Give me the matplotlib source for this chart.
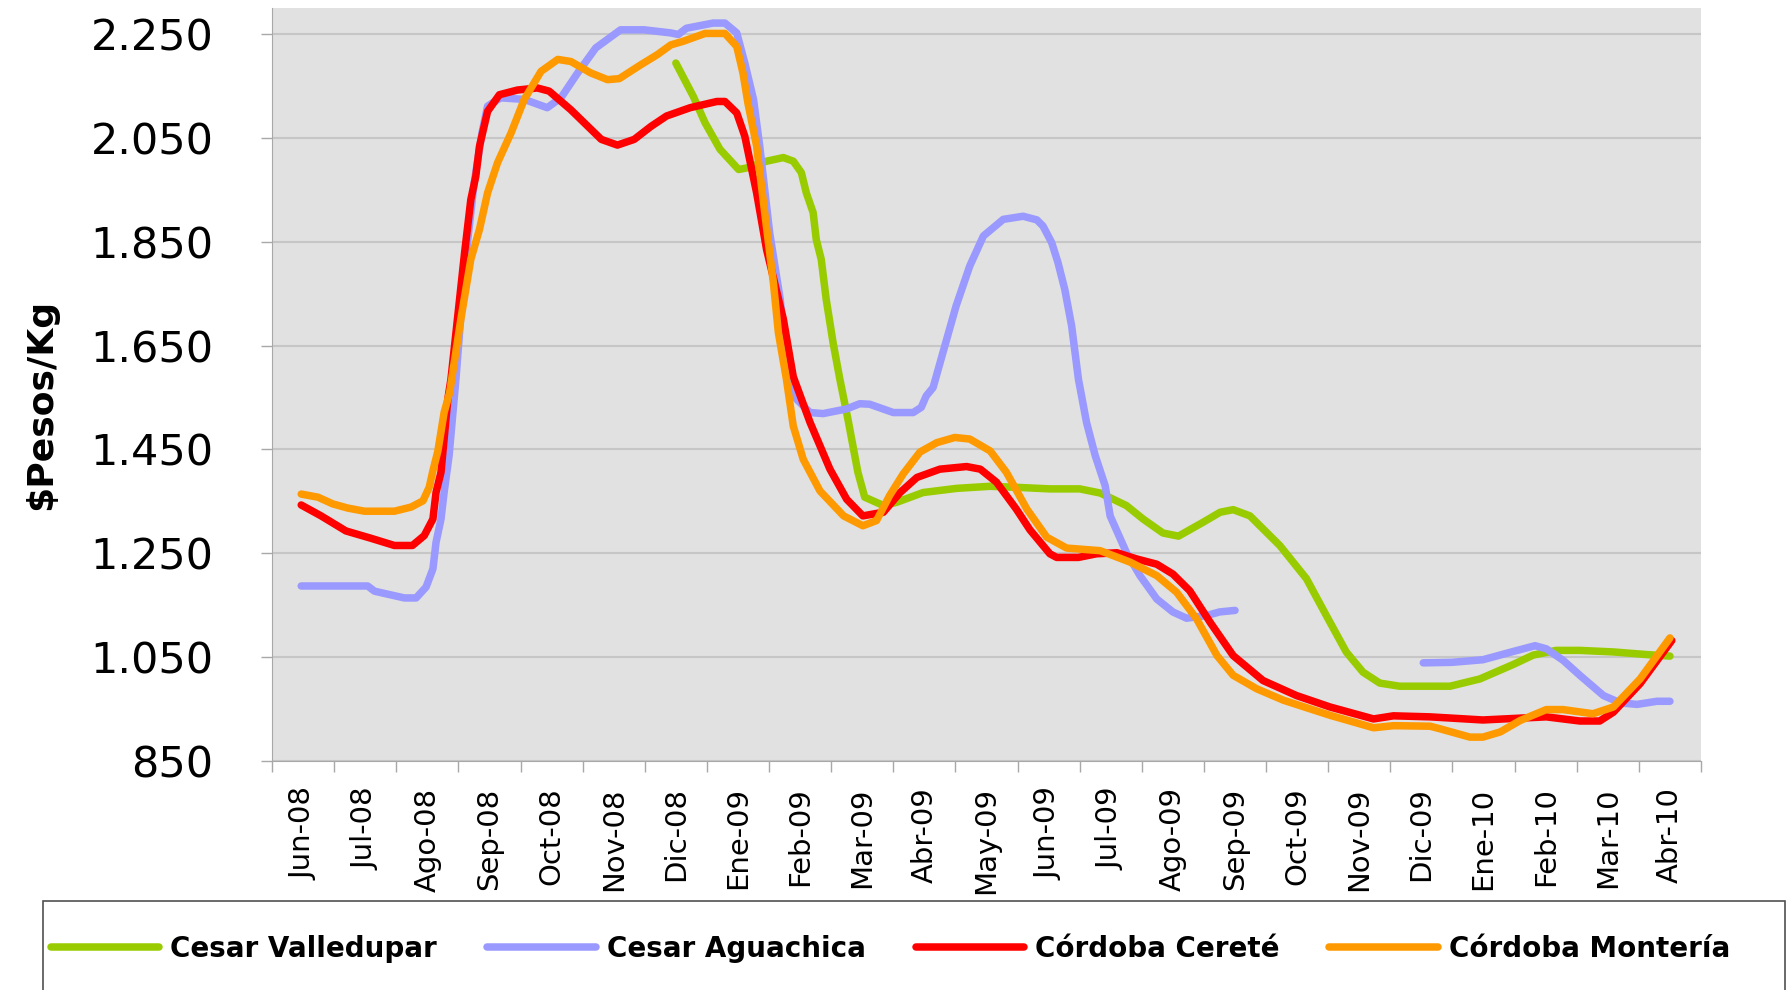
"""Precio mayorista de algodón/maíz por región: $Pesos/Kg, Jun-08 a Abr-10."""
import matplotlib
matplotlib.use("Agg")
import matplotlib.pyplot as plt
import numpy as np
from matplotlib.patches import Rectangle
from matplotlib.ticker import FixedLocator, FuncFormatter

months = ["Jun-08", "Jul-08", "Ago-08", "Sep-08", "Oct-08", "Nov-08", "Dic-08",
          "Ene-09", "Feb-09", "Mar-09", "Abr-09", "May-09", "Jun-09", "Jul-09",
          "Ago-09", "Sep-09", "Oct-09", "Nov-09", "Dic-09", "Ene-10", "Feb-10",
          "Mar-10", "Abr-10"]

# time in months since Jun-08 (fractional = within the month)
valle_t = [6.00, 6.28, 6.47, 6.71, 7.01, 7.14, 7.46, 7.73, 7.89, 8.02, 8.10, 8.21,
           8.26, 8.34, 8.42, 8.53, 8.64, 8.77, 8.85, 8.93, 9.04, 9.34, 9.55, 9.98,
           10.52, 11.06, 11.48, 12.02, 12.50, 12.83, 13.25, 13.52, 13.84, 14.09,
           14.49, 14.76, 14.97, 15.24, 15.72, 16.15, 16.47, 16.79, 17.06, 17.33,
           17.65, 18.46, 18.94, 19.48, 19.80, 20.17, 20.55, 21.09, 21.62, 22.00]
valle_v = [2194, 2130, 2079, 2028, 1989, 1992, 2005, 2012, 2005, 1983, 1944, 1906,
           1854, 1816, 1739, 1656, 1585, 1508, 1457, 1406, 1358, 1342, 1348, 1367,
           1375, 1379, 1377, 1374, 1374, 1366, 1342, 1316, 1289, 1283,
           1310, 1329, 1334, 1322, 1265, 1201, 1130, 1060, 1021, 1000,
           994, 994, 1008, 1036, 1054, 1063, 1063, 1060, 1055, 1052]

agua_t = [-0.03, 1.04, 1.15, 1.63, 1.82, 1.98, 2.09, 2.14, 2.22, 2.27, 2.35, 2.46,
          2.60, 2.75, 2.88, 2.97, 3.18, 3.56, 3.93, 4.15, 4.42, 4.71, 5.11, 5.49,
          5.92, 6.04, 6.17, 6.60, 6.79, 6.98, 7.11, 7.25, 7.35, 7.51, 7.68, 7.78,
          7.94, 8.16, 8.37, 8.75, 8.96, 9.12, 9.50, 9.82, 9.95, 10.03, 10.14, 10.30,
          10.51, 10.73, 10.95, 11.27, 11.59, 11.81, 11.91, 12.05, 12.15, 12.26,
          12.37, 12.48, 12.61, 12.75, 12.91, 12.99, 13.25, 13.47, 13.74, 14.00,
          14.22, 14.54, 14.75, 15.00, 16.5,
          18.03, 18.49, 18.99, 19.48, 19.83, 20.01, 20.28, 20.55, 20.93, 21.20,
          21.47, 21.79, 22.00]
agua_v = [1187, 1187, 1177, 1164, 1164, 1185, 1220, 1271, 1316, 1367, 1438, 1585,
          1800, 1960, 2060, 2111, 2127, 2124, 2108, 2127, 2175, 2223, 2258, 2258,
          2252, 2249, 2261, 2271, 2271, 2252, 2194, 2124, 2034, 1867, 1739, 1611,
          1547, 1521, 1519, 1528, 1538, 1537, 1521, 1521, 1531, 1553, 1569, 1637,
          1726, 1803, 1861, 1893, 1899, 1892, 1880, 1848, 1810, 1758,
          1688, 1585, 1502, 1438, 1380, 1322, 1252, 1207, 1162, 1137,
          1125, 1130, 1137, 1140, np.nan,
          1039, 1040, 1045, 1061, 1072, 1066, 1044, 1015, 976, 962,
          959, 965, 965]

cerete_t = [-0.03, 0.29, 0.69, 1.09, 1.47, 1.76, 1.95, 2.09, 2.14, 2.22, 2.33, 2.38,
            2.60, 2.70, 2.78, 2.84, 2.97, 3.16, 3.45, 3.77, 3.96, 4.31, 4.80, 5.06,
            5.33, 5.60, 5.85, 6.23, 6.66, 6.79, 6.98, 7.11, 7.30, 7.46, 7.73, 7.89,
            8.16, 8.48, 8.75, 9.01, 9.34, 9.61, 9.88, 10.25, 10.68, 10.90, 11.16,
            11.48, 11.70, 12.02, 12.13, 12.48, 12.77, 13.10, 13.42, 13.74, 14.00,
            14.27, 14.60, 14.97, 15.45, 15.99, 16.53, 17.23, 17.55, 18.14, 18.99,
            20.01, 20.55, 20.87, 21.09, 21.52, 22.03]
cerete_v = [1343, 1322, 1293, 1279, 1265, 1265, 1284, 1316, 1367, 1406, 1547, 1585,
            1829, 1931, 1976, 2034, 2101, 2133, 2142, 2146, 2140, 2104, 2047, 2036,
            2047, 2072, 2092, 2108, 2120, 2120, 2098, 2053, 1944, 1835, 1701, 1590,
            1502, 1412, 1354, 1322, 1329, 1367, 1396, 1412, 1417, 1412, 1387,
            1335, 1295, 1249, 1242, 1242, 1249, 1251, 1239, 1229, 1210,
            1178, 1117, 1053, 1005, 976, 954, 931, 937, 935, 929,
            935, 927, 927, 944, 999, 1082]

monteria_t = [-0.03, 0.24, 0.48, 0.72, 0.99, 1.47, 1.74, 1.93, 2.03, 2.09, 2.17, 2.27,
              2.36, 2.54, 2.70, 2.84, 2.97, 3.13, 3.35, 3.56, 3.83, 4.10, 4.31, 4.63,
              4.90, 5.09, 5.44, 5.70, 5.92, 6.12, 6.47, 6.79, 6.98, 7.08, 7.16, 7.30,
              7.43, 7.57, 7.65, 7.78, 7.89, 8.05, 8.32, 8.70, 9.01, 9.23, 9.44, 9.66,
              9.93, 10.20, 10.49, 10.73, 11.06, 11.32, 11.65, 11.97, 12.29, 12.83,
              13.31, 13.74, 14.06, 14.38, 14.71, 14.97, 15.35, 15.78, 16.53, 17.23,
              17.55, 18.14, 18.30, 18.78, 18.99, 19.27, 19.59, 20.01, 20.28, 20.76,
              21.09, 21.52, 22.00]
monteria_v = [1364, 1358, 1345, 1337, 1331, 1331, 1339, 1351, 1377, 1409, 1447, 1521,
              1560, 1701, 1816, 1874, 1944, 2002, 2060, 2124, 2178, 2201, 2197, 2175,
              2162, 2164, 2191, 2210, 2229, 2236, 2251, 2251, 2226, 2175, 2117, 2034,
              1906, 1771, 1675, 1585, 1495, 1431, 1370, 1322, 1303, 1313, 1361, 1403,
              1445, 1463, 1473, 1470, 1447, 1406, 1335, 1281, 1260, 1255,
              1233, 1207, 1175, 1124, 1053, 1015, 989, 967, 938, 914,
              918, 917, 912, 896, 896, 906, 928, 949, 949, 941,
              954, 1008, 1087]

series = [
    ("Cesar Valledupar", valle_t, valle_v, "#99CC00"),
    ("Cesar Aguachica", agua_t, agua_v, "#9999FF"),
    ("Córdoba Cereté", cerete_t, cerete_v, "#FF0000"),
    ("Córdoba Montería", monteria_t, monteria_v, "#FF9900"),
]

W, H = 1788, 990
fig = plt.figure(figsize=(W / 100, H / 100), dpi=100)
ax = fig.add_axes([272 / W, 1 - 761 / H, (1701 - 272) / W, (761 - 8) / H])
ax.set_facecolor("#E1E1E1")

handles = []
for name, t, v, color in series:
    ln, = ax.plot(t, v, color=color, lw=5.4, label=name,
                  solid_capstyle="round", solid_joinstyle="round")
    handles.append(ln)

ax.set_xlim(-0.5, len(months) - 0.5)
ax.set_ylim(850, 2300)

ax.yaxis.set_major_locator(FixedLocator(np.arange(850, 2251, 200)))
ax.yaxis.set_major_formatter(FuncFormatter(lambda v, p: f"{int(v):,}".replace(",", ".")))
ax.grid(axis="y", color="#C6C6C6", lw=1.5)
ax.set_axisbelow(True)

ax.xaxis.set_major_locator(FixedLocator(np.arange(-0.5, len(months), 1.0)))
ax.xaxis.set_minor_locator(FixedLocator(np.arange(len(months))))
ax.set_xticklabels([], minor=False)
ax.set_xticklabels(months, minor=True, rotation=90, fontsize=21)

ax.tick_params(axis="x", which="major", length=8, width=1, color="#A8A8A8")
ax.tick_params(axis="x", which="minor", length=0, pad=19)
ax.tick_params(axis="y", length=8, width=1, color="#A8A8A8", labelsize=31, pad=34)

for s in ("top", "right"):
    ax.spines[s].set_visible(False)
for s in ("left", "bottom"):
    ax.spines[s].set_color("#A8A8A8")

fig.text(41 / W, 1 - 404 / H, "$Pesos/Kg", rotation=90, ha="center", va="center",
         fontsize=26, fontweight="bold")

# legend box runs off the bottom of the image
fig.patches.append(Rectangle((43 / W, -0.02), (1785 - 43) / W, (990 - 901) / H + 0.02,
                             transform=fig.transFigure, fill=False,
                             edgecolor="#505050", lw=1.2))
fig.legend(handles=handles, loc="center left", bbox_to_anchor=(51 / W, 1 - 949 / H),
           ncol=4, frameon=False, prop={"weight": "bold", "size": 20},
           handlelength=3.9, handletextpad=0.4, columnspacing=1.8,
           borderpad=0, borderaxespad=0)

fig.savefig("out.png", dpi=100)
plt.close(fig)
